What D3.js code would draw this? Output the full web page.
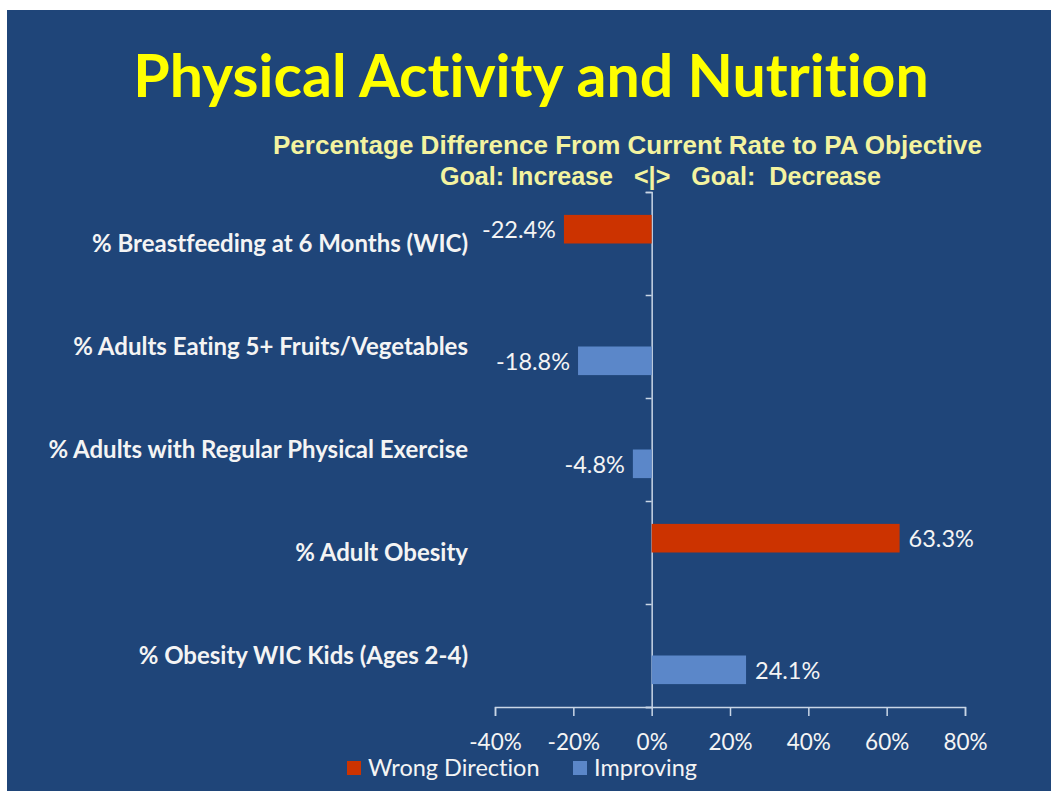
<!DOCTYPE html>
<html>
<head>
<meta charset="utf-8">
<script src="https://cdn.jsdelivr.net/npm/d3@7"></script>
<style>
  body { margin: 0; background: #fff; }
  svg { display: block; }
  text { font-variant-ligatures: none; }
</style>
</head>
<body>
<script>
const canvWidth = 1051, canvHeight = 791;

// chart data, top to bottom as shown
const categories = [
    "% Breastfeeding at 6 Months (WIC)",
    "% Adults Eating 5+ Fruits/Vegetables",
    "% Adults with Regular Physical Exercise",
    "% Adult Obesity",
    "% Obesity WIC Kids (Ages 2-4)"
];
const seriesNames = ["Wrong Direction", "Improving"];
const wrongDirection = [-22.4, null, null, 63.3, null];
const improving = [null, -18.8, -4.8, null, 24.1];
const xTicks = [-40, -20, 0, 20, 40, 60, 80];

const colors = {"Wrong Direction": "#cc3300", "Improving": "#5b87c9"};
const bg = "#1f4579";
const axisColor = "#c9d6e6";
const textColor = "#f4f4f4";

const svg = d3.select("body").append("svg")
    .attr("width", canvWidth)
    .attr("height", canvHeight);

svg.append("rect")
    .attr("x", 7).attr("y", 10)
    .attr("width", canvWidth - 7).attr("height", canvHeight - 10)
    .attr("fill", bg);

// titles
svg.append("text")
    .attr("x", 531).attr("y", 97)
    .attr("text-anchor", "middle")
    .attr("font-family", "Lato, 'Open Sans', sans-serif")
    .attr("font-weight", "bold")
    .attr("font-size", "59px")
    .attr("fill", "#ffff00")
    .text("Physical Activity and Nutrition");

svg.append("text")
    .attr("x", 273).attr("y", 154)
    .attr("textLength", 709)
    .attr("lengthAdjust", "spacingAndGlyphs")
    .attr("font-family", "'Liberation Sans Narrow', 'Liberation Sans', Arial, sans-serif")
    .attr("font-weight", "bold")
    .attr("font-size", "25px")
    .attr("fill", "#f3f3a0")
    .text("Percentage  Difference  From  Current  Rate  to  PA  Objective");

svg.append("text")
    .attr("x", 440).attr("y", 185)
    .attr("textLength", 441)
    .attr("lengthAdjust", "spacingAndGlyphs")
    .attr("font-family", "'Liberation Sans Narrow', 'Liberation Sans', Arial, sans-serif")
    .attr("font-weight", "bold")
    .attr("font-size", "25px")
    .attr("fill", "#f3f3a0")
    .style("white-space", "pre")
    .text("Goal: Increase   <|>   Goal:  Decrease");

// scales
const xScale = d3.scaleLinear().domain([-40, 80]).range([495, 965]);
const yScale = d3.scaleBand().domain(categories).range([192, 707]).padding(0);
const ySub = d3.scaleBand().domain(seriesNames)
    .range([0, yScale.bandwidth()]).paddingInner(0).paddingOuter(0.8);

const rows = categories.map((c, i) => ({
    category: c,
    values: [
        {series: "Wrong Direction", value: wrongDirection[i]},
        {series: "Improving", value: improving[i]}
    ].filter(d => d.value !== null)
}));

// x axis
const xAxis = d3.axisBottom(xScale)
    .tickValues(xTicks)
    .tickSize(9)
    .tickPadding(18)
    .tickFormat(d => d + "%");
const gx = svg.append("g")
    .attr("transform", "translate(0,707)")
    .call(xAxis);
gx.select(".domain").attr("stroke", axisColor).attr("stroke-width", 1.5);
gx.selectAll(".tick line").attr("stroke", axisColor).attr("stroke-width", 1.5);
gx.selectAll(".tick text")
    .attr("fill", textColor)
    .attr("font-family", "Lato, sans-serif")
    .attr("font-size", "22.5px");

// y axis: ticks on band boundaries, no labels
const yEdges = d3.scaleLinear().domain([0, categories.length]).range([192, 707]);
const gy = svg.append("g")
    .attr("transform", `translate(${xScale(0)},0)`)
    .call(d3.axisLeft(yEdges).ticks(categories.length).tickSize(6).tickFormat(""));
gy.select(".domain").attr("stroke", axisColor).attr("stroke-width", 1.5);
gy.selectAll(".tick line").attr("stroke", axisColor).attr("stroke-width", 1.5);

// category labels
svg.append("g").selectAll("text")
    .data(categories)
    .enter().append("text")
    .attr("x", 468)
    .attr("y", d => yScale(d) + yScale.bandwidth() / 2)
    .attr("dy", "0.35em")
    .attr("text-anchor", "end")
    .attr("font-family", "Lato, 'Open Sans', sans-serif")
    .attr("font-weight", "bold")
    .attr("font-size", "24px")
    .attr("fill", textColor)
    .text(d => d);

// bars
const groups = svg.append("g").selectAll("g")
    .data(rows)
    .enter().append("g")
    .attr("transform", d => `translate(0,${yScale(d.category)})`);

groups.selectAll("rect")
    .data(d => d.values)
    .enter().append("rect")
    .attr("x", d => xScale(Math.min(0, d.value)))
    .attr("y", d => ySub(d.series))
    .attr("width", d => Math.abs(xScale(d.value) - xScale(0)))
    .attr("height", ySub.bandwidth())
    .attr("fill", d => colors[d.series]);

groups.selectAll("text")
    .data(d => d.values)
    .enter().append("text")
    .attr("x", d => d.value < 0 ? xScale(d.value) - 8 : xScale(d.value) + 9)
    .attr("y", d => ySub(d.series) + ySub.bandwidth() / 2 + 1)
    .attr("dy", "0.35em")
    .attr("text-anchor", d => d.value < 0 ? "end" : "start")
    .attr("font-family", "Lato, sans-serif")
    .attr("font-size", "23.5px")
    .attr("fill", textColor)
    .text(d => d.value.toFixed(1) + "%");

// legend
const legendX = [347, 573];
const legend = svg.append("g").selectAll("g")
    .data(seriesNames)
    .enter().append("g")
    .attr("transform", (d, i) => `translate(${legendX[i]},761)`);
legend.append("rect")
    .attr("width", 14).attr("height", 14)
    .attr("fill", d => colors[d]);
legend.append("text")
    .attr("x", 21).attr("y", 7)
    .attr("dy", "0.35em")
    .attr("font-family", "Lato, sans-serif")
    .attr("font-size", "23.5px")
    .attr("fill", textColor)
    .text(d => d);
</script>
</body>
</html>
